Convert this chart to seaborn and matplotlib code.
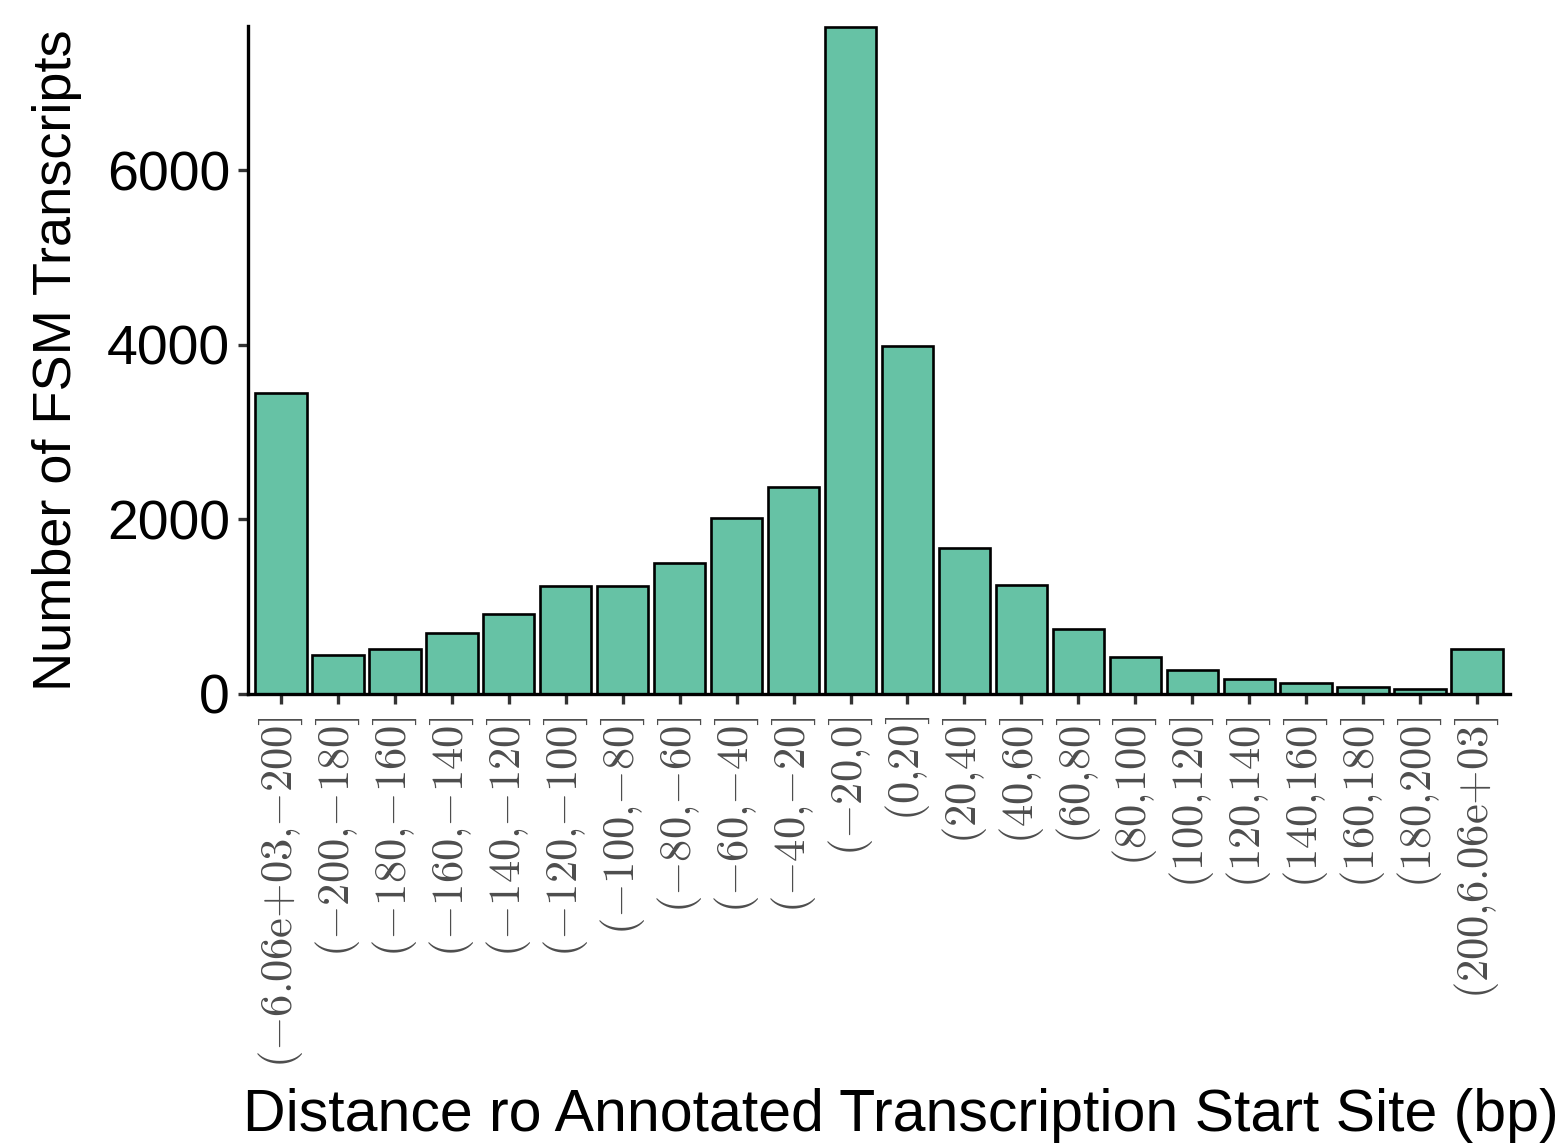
import matplotlib
matplotlib.use("Agg")
import matplotlib.pyplot as plt
import seaborn as sns
import pandas as pd

categories = ["(-6.06e+03,-200]", "(-200,-180]", "(-180,-160]", "(-160,-140]",
              "(-140,-120]", "(-120,-100]", "(-100,-80]", "(-80,-60]", "(-60,-40]",
              "(-40,-20]", "(-20,0]", "(0,20]", "(20,40]", "(40,60]", "(60,80]",
              "(80,100]", "(100,120]", "(120,140]", "(140,160]", "(160,180]",
              "(180,200]", "(200,6.06e+03]"]
counts = [3450, 447, 515, 699, 916, 1237, 1237, 1500, 2016, 2371, 7640, 3986,
          1672, 1245, 745, 424, 275, 172, 126, 80, 57, 515]

df = pd.DataFrame({"bin": categories, "n": counts})

sns.set_theme(style="ticks")
plt.rcParams["font.family"] = ["Liberation Sans", "DejaVu Sans"]
plt.rcParams["mathtext.fontset"] = "cm"
plt.rcParams["text.color"] = "black"
plt.rcParams["axes.labelcolor"] = "black"

fig = plt.figure(figsize=(15.62, 11.44), dpi=100)
ax = fig.add_axes([248 / 1562, 1 - 694 / 1144, (1510 - 248) / 1562, (694 - 26) / 1144])

sns.barplot(data=df, x="bin", y="n", order=categories, color="#66C2A5",
            saturation=1, width=0.9, edgecolor="black", linewidth=1.9, ax=ax)

ax.set_xlim(-0.58, len(categories) - 1 + 0.58)
ax.set_ylim(0, 7650)
ax.set_yticks([0, 2000, 4000, 6000])
ax.set_yticklabels(["0", "2000", "4000", "6000"], fontsize=40, color="black")


def tex(s):
    s = s.replace("-", "{-}").replace("+", "{+}").replace(",", "{,}")
    return r"$\mathrm{" + s + "}$"


ax.set_xticks(range(len(categories)))
ax.set_xticklabels([tex(c) for c in categories], rotation=90, fontsize=32,
                   color="#4d4d4d", va="top", ha="center")

for side in ["top", "right"]:
    ax.spines[side].set_visible(False)
for side in ["left", "bottom"]:
    ax.spines[side].set_linewidth(2.4)
    ax.spines[side].set_color("black")
ax.tick_params(axis="both", length=7, width=2.4, color="#333333", pad=6)
ax.tick_params(axis="x", pad=9)

ax.set_ylabel("Number of FSM Transcripts", fontsize=39, labelpad=18, color="black")
ax.set_xlabel("Distance ro Annotated Transcription Start Site (bp)", fontsize=42.5,
              color="black")
ax.xaxis.set_label_coords(0.517, -0.59)

fig.savefig("out.png", dpi=100)
